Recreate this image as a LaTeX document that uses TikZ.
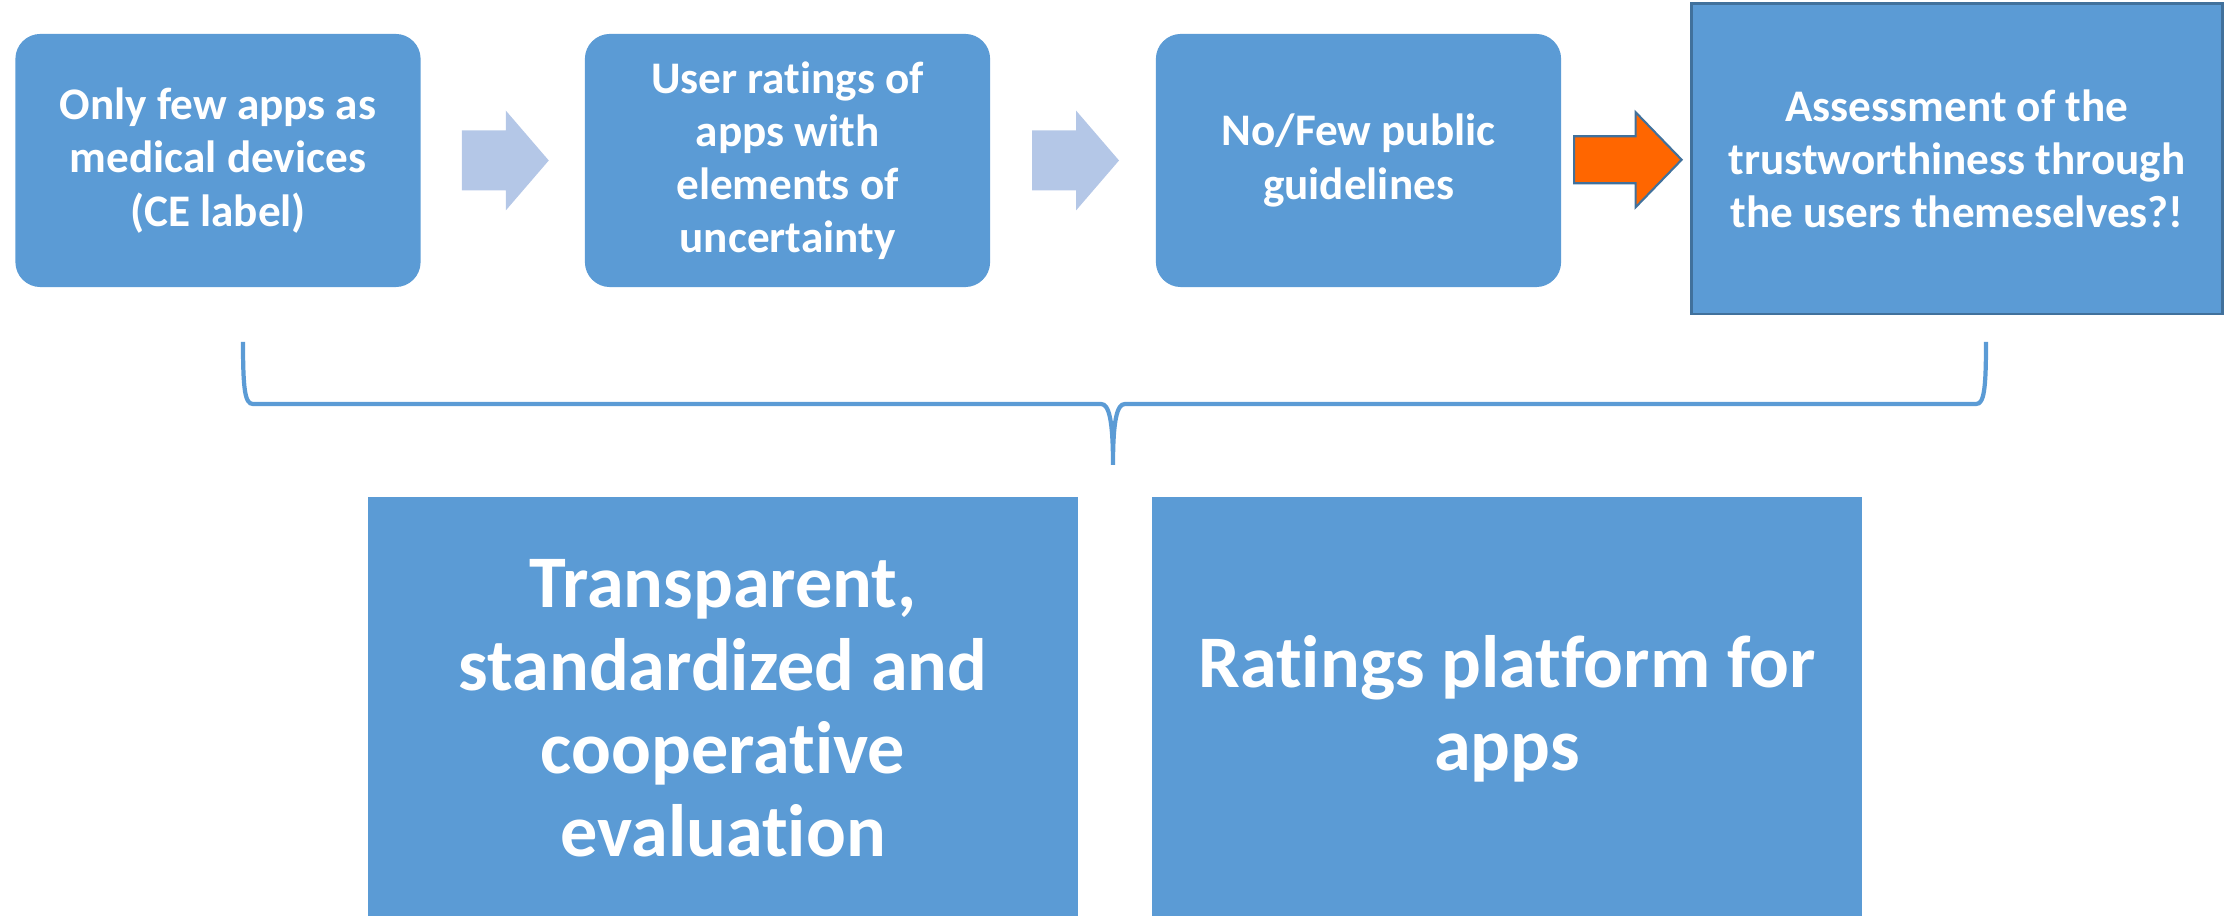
\documentclass[tikz,border=0pt]{standalone}
\usepackage{fontspec}
\setmainfont{Carlito}[Ligatures=NoCommon]
\usetikzlibrary{calc}
\definecolor{boxblue}{HTML}{5B9BD5}
\definecolor{arrowpale}{HTML}{B4C7E7}
\definecolor{arroworange}{HTML}{FF6600}
\definecolor{edgeblue}{HTML}{41719C}
\begin{document}
\begin{tikzpicture}[x=0.01cm,y=-0.01cm,
  box/.style={fill=boxblue,text=white,align=center,inner sep=0pt,
    font=\fontsize{12.85}{15.1}\selectfont\bfseries},
  roundbox/.style={box,rounded corners=0.25cm,minimum width=4.05cm,minimum height=2.53cm},
  squarebox/.style={box,draw=edgeblue,line width=0.8pt,minimum width=5.3cm,minimum height=3.1cm},
  bigbox/.style={box,minimum width=7.09cm,minimum height=4.23cm,
    font=\fontsize{21.1}{23.6}\selectfont\bfseries},
  palearrow/.style={fill=arrowpale},
  hotarrow/.style={fill=arroworange,draw=edgeblue,line width=0.6pt},
  bracket/.style={draw=boxblue,line width=1.2pt}]
\useasboundingbox (0,0) rectangle (2229,916);

\node[roundbox] (b1) at (218,160.5) {Only few apps as\\medical devices\\(CE label)};
\node[roundbox] (b2) at (787.5,160.5) {User ratings of\\apps with\\elements of\\uncertainty};
\node[roundbox] (b3) at (1358.5,160.5) {No/Few public\\guidelines};
\node[squarebox] (b4) at (1957,159) {Assessment of the\\trustworthiness through\\the users themeselves?!};

\node[bigbox] (e1) at (723,708.5) {Transparent,\\standardized and\\cooperative\\evaluation};
\node[bigbox] (e2) at (1507,708.5) {Ratings platform for\\apps};

\coordinate (m12) at ($(b1.east)!0.5!(b2.west)$);
\coordinate (m23) at ($(b2.east)!0.5!(b3.west)$);
\coordinate (m34) at ($(b3.east)!0.5!(b4.west)$);
\fill[palearrow,shift={(m12)}] (-41,-30) -- (3,-30) -- (3,-50) -- (46,0) -- (3,50) -- (3,30) -- (-41,30) -- cycle;
\fill[palearrow,shift={(m23)}] (-41,-30) -- (3,-30) -- (3,-50) -- (46,0) -- (3,50) -- (3,30) -- (-41,30) -- cycle;
\filldraw[hotarrow,shift={(m34)}] (-52,-23.5) -- (9.5,-23.5) -- (9.5,-47.5) -- (55.5,0) -- (9.5,47.5) -- (9.5,23.5) -- (-52,23.5) -- cycle;

\coordinate (brl) at (243,342);
\coordinate (brr) at (1986,342);
\coordinate (brm) at (1113,465);
\draw[bracket] (brl) .. controls (243,390) and (245,404) .. (253,404) -- (1101,404)
  .. controls (1109,404) and (1113,420) .. (brm)
  .. controls (1113,420) and (1117,404) .. (1125,404) -- (1976,404)
  .. controls (1984,404) and (1986,390) .. (brr);
\end{tikzpicture}
\end{document}
